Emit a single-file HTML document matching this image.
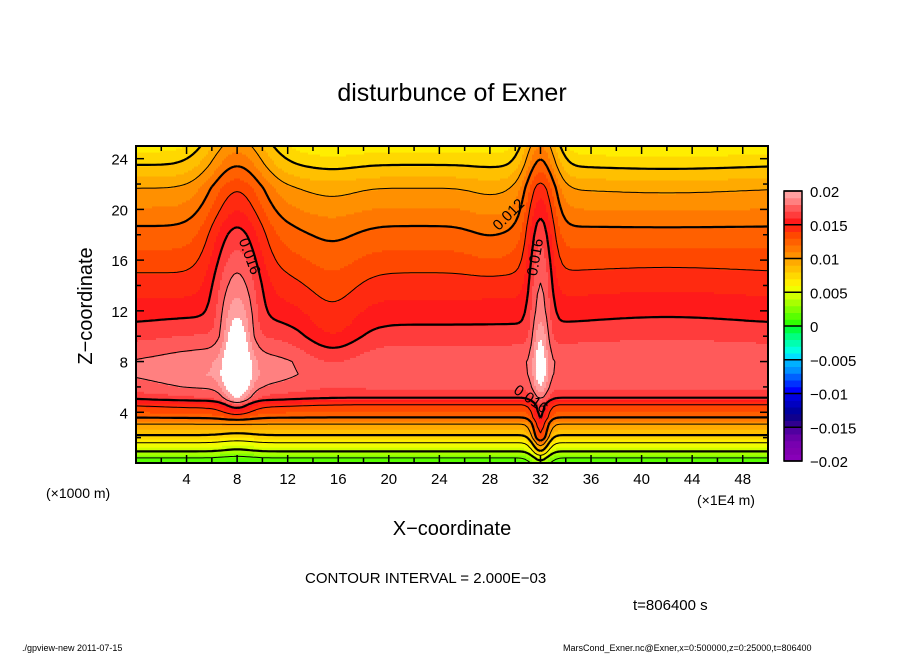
<!DOCTYPE html>
<html><head><meta charset="utf-8"><style>
html,body{margin:0;padding:0;background:#fff}
svg{display:block}
text{font-family:"Liberation Sans",sans-serif;fill:#000}
</style></head><body>
<svg id="chart" width="904" height="654" viewBox="0 0 904 654">
<text x="452" y="101" font-size="25" text-anchor="middle">disturbunce of Exner</text>
<g id="field"></g>
<g id="lines" fill="none" stroke="#000"></g>
<g id="clabels"></g>
<g id="axes"></g>
<g id="cbar"></g>
<text x="0" y="0" font-size="20" text-anchor="middle" transform="translate(92,306) rotate(-90)">Z−coordinate</text>
<text x="452" y="535" font-size="20" text-anchor="middle">X−coordinate</text>
<text x="46" y="498" font-size="14">(×1000 m)</text>
<text x="697" y="505" font-size="14">(×1E4 m)</text>
<text x="305" y="583" font-size="15">CONTOUR INTERVAL = 2.000E−03</text>
<text x="633" y="610" font-size="15">t=806400 s</text>
<text x="22" y="651" font-size="9">./gpview-new   2011-07-15</text>
<text x="563" y="651" font-size="9">MarsCond_Exner.nc@Exner,x=0:500000,z=0:25000,t=806400</text>
</svg>
<script>
// ---- data ----
const profileZ = [0,0.4,0.9,1.6,2.2,3.1,3.6,4.6,5.1,6,7,8,9,10.9,15,18.7,21.7,23.5,25];
const profileVal = [0.0012,0.002,0.004,0.006,0.008,0.010,0.012,0.014,0.016,0.0172,0.0178,0.0178,0.0172,0.016,0.014,0.012,0.010,0.008,0.0066];
const bumpZ = [0,1,2,3,5,7,10,12,14,16,18,20,22,25];
const bumpX = [8,6.5,15.5,32,28,42];
const bumpAmp = [
 [-0.0005,-0.0005,-0.0005,0,0.003,0.0042,0.0042,0.004,0.004,0.004,0.004,0.0038,0.0038,0.004],
 [0,0,0,0,0.0008,0.0012,0.0006,0.0002,0,0,0,0,0,0],
 [0,0,0,0,0,-0.0006,-0.0015,-0.0012,-0.001,-0.0008,-0.0006,-0.0005,-0.0004,-0.0003],
 [0.002,0.004,0.006,0.005,0.002,0.0032,0.0032,0.003,0.0035,0.004,0.0043,0.0045,0.0045,0.0045],
 [0,0,0,0,0,0,0,0,0,-0.0004,-0.0004,-0.0004,-0.0003,0],
 [0,0,0,0,0,0.0001,0.0003,0.0003,0.0003,0.0002,0,-0.0002,-0.0003,-0.0004]
];
const bumpWidth = [
 [1.5,1.5,1.5,1.5,1.1,1.1,1.1,1.6,2,2.2,2.4,2.5,2.6,2.8],
 [6,6,6,6,6,6,6,6,6,6,6,6,6,6],
 [2.5,2.5,2.5,2.5,2.5,2.5,2.5,2.5,2.5,2.5,2.5,2.5,2.5,2.5],
 [0.8,0.7,0.7,0.7,0.7,0.6,0.7,0.9,1.0,1.1,1.2,1.3,1.4,1.5],
 [2,2,2,2,2,2,2,2,2,2,2,2,2,2],
 [8,8,8,8,8,8,8,8,8,8,8,8,8,8]
];
const xTicks = [4,8,12,16,20,24,28,32,36,40,44,48];
const zTicks = [4,8,12,16,20,24];
const cbTicks = [0.02,0.015,0.01,0.005,0,-0.005,-0.01,-0.015,-0.02];
const cbLabels = ["0.02","0.015","0.01","0.005","0","−0.005","−0.01","−0.015","−0.02"];
const palette = ["#30ff00","#58ff00","#80ff00","#a8ff00","#d0ff00","#f0ff00","#ffee00","#ffd800","#ffc000","#ffaa00","#ff9000","#ff7800","#ff6000","#ff4800","#ff2a10","#ff1a1a","#ff3c3c","#ff5a5a","#ff8080","#ffa0a0","#ffffff"];
const negPalette = ["#00ff40","#00ff80","#00ffb0","#00ffe0","#00e0ff","#00b0ff","#0090ff","#0060ff","#0030ff","#0000ff","#0000e0","#0000c0","#0000a0","#10008c","#300090","#5000a0","#6800a8","#7800b0","#8000b0","#8800b8"];
// ---- axes ----
const X0=136,X1=768,Y0=463,Y1=146, XMAX=50, ZMAX=25;
const sx=x=>X0+(X1-X0)*x/XMAX, sz=z=>Y0-(Y0-Y1)*z/ZMAX;
const NS='http://www.w3.org/2000/svg';
function mk(tag,attrs,parent){const e=document.createElementNS(NS,tag);for(const k in attrs)e.setAttribute(k,attrs[k]);parent.appendChild(e);return e;}
function interp(xs,ys,v){if(v<=xs[0])return ys[0];for(let i=1;i<xs.length;i++){if(v<=xs[i]){const t=(v-xs[i-1])/(xs[i]-xs[i-1]);return ys[i-1]+t*(ys[i]-ys[i-1]);}}return ys[ys.length-1];}
function field(x,z){let v=interp(profileZ,profileVal,z);for(let b=0;b<bumpX.length;b++){const a=interp(bumpZ,bumpAmp[b],z);const w=interp(bumpZ,bumpWidth[b],z);const d=(x-bumpX[b])/w;v+=a*Math.exp(-d*d);}return v;}
function colorOf(v){const k=Math.floor(v/0.001+1e-9);if(k>=20)return palette[20];if(k>=0)return palette[k];return negPalette[Math.min(19,-k-1)];}
// ---- filled field ----
const fg=document.getElementById('field');
const NX=316,NZ=159;
for(let j=0;j<NZ;j++){
  const z=(j+0.5)*ZMAX/NZ; const yTop=sz((j+1)*ZMAX/NZ), yBot=sz(j*ZMAX/NZ);
  let start=0, cur=colorOf(field(0.5*XMAX/NX,z));
  for(let i=1;i<=NX;i++){
    const c= i<NX? colorOf(field((i+0.5)*XMAX/NX,z)) : null;
    if(c!==cur){
      const r=mk('rect',{x:sx(start*XMAX/NX).toFixed(2),y:yTop.toFixed(2),width:(sx(i*XMAX/NX)-sx(start*XMAX/NX)+0.6).toFixed(2),height:(yBot-yTop+0.6).toFixed(2),fill:cur},fg);
      
      
      start=i;cur=c;
    }
  }
}
// ---- contour lines (marching squares) ----
const lg=document.getElementById('lines');
const CX=200,CZ=125; const G=[];
for(let j=0;j<=CZ;j++){G[j]=[];for(let i=0;i<=CX;i++)G[j][i]=field(i*XMAX/CX,j*ZMAX/CZ);}
for(let k=2;k<=18;k+=2){
  const L=k*0.001; let d='';
  for(let j=0;j<CZ;j++)for(let i=0;i<CX;i++){
    const v=[G[j][i],G[j][i+1],G[j+1][i+1],G[j+1][i]];
    const P=[[i,j],[i+1,j],[i+1,j+1],[i,j+1]];
    const pts=[];
    for(let e=0;e<4;e++){const a=v[e],b=v[(e+1)%4];if((a<L)!==(b<L)){const t=(L-a)/(b-a);const p0=P[e],p1=P[(e+1)%4];pts.push([p0[0]+t*(p1[0]-p0[0]),p0[1]+t*(p1[1]-p0[1])]);}}
    const tp=p=>sx(p[0]*XMAX/CX).toFixed(1)+' '+sz(p[1]*ZMAX/CZ).toFixed(1);
    if(pts.length>=2)d+='M'+tp(pts[0])+'L'+tp(pts[1]);
    if(pts.length===4)d+='M'+tp(pts[2])+'L'+tp(pts[3]);
  }
  if(d){const p=mk('path',{d:d,'stroke-width':k%4===0?2.2:1},lg);
  
  }
}
// contour labels
const cl=document.getElementById('clabels');
[[245,258,70,"0.016"],[540,258,-80,"0.016"],[512,218,-45,"0.012"],[528,403,35,"0.016"]].forEach(a=>{
  const t=mk('text',{x:0,y:0,'font-size':15,'text-anchor':'middle',transform:`translate(${a[0]},${a[1]}) rotate(${a[2]})`},cl);
  t.textContent=a[3];
  
  
});
// ---- axes ----
const ax=document.getElementById('axes');
const fr=mk('rect',{x:X0,y:Y1,width:X1-X0,height:Y0-Y1,fill:'none',stroke:'#000','stroke-width':2},ax);

for(let x=2;x<XMAX;x+=2){const len=x%4===0?8:5;
  mk('line',{x1:sx(x),x2:sx(x),y1:Y0,y2:Y0-len,stroke:'#000','stroke-width':1.5},ax);
  mk('line',{x1:sx(x),x2:sx(x),y1:Y1,y2:Y1+len,stroke:'#000','stroke-width':1.5},ax);}
for(let z=2;z<ZMAX;z+=2){const len=z%4===0?8:5;
  mk('line',{x1:X0,x2:X0+len,y1:sz(z),y2:sz(z),stroke:'#000','stroke-width':1.5},ax);
  mk('line',{x1:X1,x2:X1-len,y1:sz(z),y2:sz(z),stroke:'#000','stroke-width':1.5},ax);}
xTicks.forEach(x=>{const t=mk('text',{x:sx(x),y:484,'font-size':15,'text-anchor':'middle'},ax);t.textContent=x;
  });
zTicks.forEach(z=>{const t=mk('text',{x:128,y:sz(z)+6,'font-size':15,'text-anchor':'end'},ax);t.textContent=z;
  });
// ---- colorbar ----
const cb=document.getElementById('cbar');
const CB0=461,CB1=191,CBX=784,CBW=18;
const cy=v=>CB0-(CB0-CB1)*(v+0.02)/0.04;
for(let k=-20;k<20;k++){const v=k*0.001;
  const r=mk('rect',{x:CBX,y:cy(v+0.001),width:CBW,height:cy(v)-cy(v+0.001)+0.5,fill:colorOf(v+0.0005)},cb);
  }
for(let k=-4;k<=4;k++)mk('line',{x1:CBX,x2:CBX+CBW,y1:cy(k*0.005),y2:cy(k*0.005),stroke:'#000','stroke-width':1.5},cb);
mk('rect',{x:CBX,y:CB1,width:CBW,height:CB0-CB1,fill:'none',stroke:'#000','stroke-width':1.5},cb);
cbTicks.forEach((v,i)=>{const t=mk('text',{x:810,y:cy(v)+6,'font-size':15},cb);t.textContent=cbLabels[i];
  });
</script>
</body></html>
